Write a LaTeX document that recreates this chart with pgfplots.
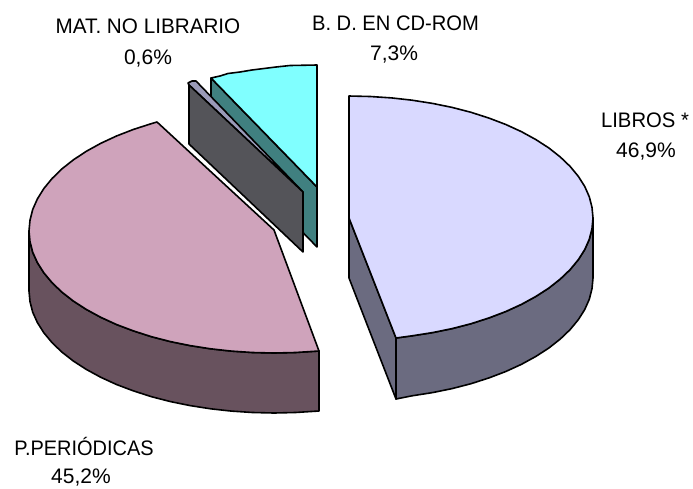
\documentclass[border=0pt]{standalone}
\usepackage{pgfplots}
\pgfplotsset{compat=1.18}
\usepackage{fontspec}
\setmainfont{Liberation Sans}
\definecolor{libtop}{HTML}{D9D9FF}
\definecolor{libside}{HTML}{6B6B80}
\definecolor{pertop}{HTML}{CFA3BB}
\definecolor{perside}{HTML}{68525E}
\definecolor{cdtop}{HTML}{80FFFF}
\definecolor{cdside}{HTML}{408080}
\definecolor{mattop}{HTML}{9A9AB8}
\definecolor{matside}{HTML}{545459}
\tikzset{lbl/.style={font=\fontsize{21}{23}\selectfont, text=black, inner sep=0pt, anchor=center}}
\begin{document}
\begin{tikzpicture}
\useasboundingbox (0,0) rectangle (693pt,488pt);
\begin{axis}[
  at={(0,0)}, anchor=south west,
  width=693pt, height=488pt, scale only axis,
  xmin=0, xmax=693, ymin=0, ymax=488, y dir=reverse,
  hide axis, clip=false,
  every axis plot/.append style={draw=black, line width=1.6pt, line join=round},
]
% CD-ROM side and top
\addplot[fill=cdside] coordinates {(211,78)(317,187)(317,247)(211,138)} -- cycle;
\addplot[fill=cdtop] coordinates {(211,78)(220,76)(228,73.5)(240,72)(252,70)(264,68.5)(276,67)(290,65.5)(317,65)(317,187)} -- cycle;
% Mat. no librario top and side
\addplot[fill=mattop] coordinates {(189,85)(188,83)(192,81)(196,81)(303,192)} -- cycle;
\addplot[fill=matside] coordinates {(189,85)(303,192)(303,252)(189,144)} -- cycle;
% Periodicas side and top
\addplot[fill=perside] coordinates {(29,231)(30,241.6)(32.7,252.2)(37.4,262.6)(43.8,272.7)(52,282.6)(61.8,292)(73.3,301)(86.3,309.4)(100.8,317.3)(116.5,324.5)(133.5,330.9)(151.5,336.7)(170.5,341.6)(190.2,345.6)(210.6,348.8)(231.5,351.1)(252.6,352.5)(274,353)(295.4,352.5)(319,351)(319,411)(295.4,412.5)(274,413)(252.6,412.5)(231.5,411.1)(210.6,408.8)(190.2,405.6)(170.5,401.6)(151.5,396.7)(133.5,390.9)(116.5,384.5)(100.8,377.3)(86.3,369.4)(73.3,361)(61.8,352)(52,342.6)(43.8,332.7)(37.4,322.6)(32.7,312.2)(30,301.6)(29,291)} -- cycle;
\addplot[fill=pertop] coordinates {(157,122)(151.5,123.6)(133.5,129.4)(116.5,136)(100.8,143.3)(86.3,151.3)(73.3,159.9)(61.8,169)(52,178.6)(43.8,188.6)(37.4,198.9)(32.7,209.5)(30,220.2)(29,231)(30,241.6)(32.7,252.2)(37.4,262.6)(43.8,272.7)(52,282.6)(61.8,292)(73.3,301)(86.3,309.4)(100.8,317.3)(116.5,324.5)(133.5,330.9)(151.5,336.7)(170.5,341.6)(190.2,345.6)(210.6,348.8)(231.5,351.1)(252.6,352.5)(274,353)(295.4,352.5)(319,351)(274,230)} -- cycle;
% Libros sides and top
\addplot[fill=libside] coordinates {(349,218)(396,338)(396,399)(349,278)} -- cycle;
\addplot[fill=libside] coordinates {(396,338)(412.1,335.8)(432.5,332.6)(452.1,328.6)(471,323.7)(489,317.9)(505.8,311.5)(521.5,304.3)(535.9,296.4)(548.9,288)(560.3,279)(570.1,269.6)(578.3,259.7)(584.7,249.6)(589.3,239.2)(592,228.6)(593,218)(593,278)(592,288.6)(589.3,299.2)(584.7,309.6)(578.3,319.7)(570.1,329.6)(560.3,339)(548.9,348)(535.9,356.4)(521.5,364.3)(505.8,371.5)(489,377.9)(471,383.7)(452.1,388.6)(432.5,392.6)(412.1,395.8)(396,399)} -- cycle;
\addplot[fill=libtop] coordinates {(349,96)(370.3,96.5)(391.4,97.9)(412.1,100.2)(432.5,103.4)(452.1,107.4)(471,112.3)(489,118.1)(505.8,124.5)(521.5,131.7)(535.9,139.6)(548.9,148)(560.3,157)(570.1,166.4)(578.3,176.3)(584.7,186.4)(589.3,196.8)(592,207.4)(593,218)(592,228.6)(589.3,239.2)(584.7,249.6)(578.3,259.7)(570.1,269.6)(560.3,279)(548.9,288)(535.9,296.4)(521.5,304.3)(505.8,311.5)(489,317.9)(471,323.7)(452.1,328.6)(432.5,332.6)(412.1,335.8)(396,338)(349,218)} -- cycle;
% Labels
\node[lbl,xscale=.985] at (axis cs:148,26) {MAT. NO LIBRARIO};
\node[lbl] at (axis cs:148,58.5) {0,6\%};
\node[lbl,xscale=.96] at (axis cs:395.5,23) {B. D. EN CD-ROM};
\node[lbl] at (axis cs:394,54.5) {7,3\%};
\node[lbl,xscale=.965] at (axis cs:645,120) {LIBROS *};
\node[lbl] at (axis cs:646,152) {46,9\%};
\node[lbl,xscale=.95] at (axis cs:84,446) {P.PERIÓDICAS};
\node[lbl] at (axis cs:81,478) {45,2\%};
\end{axis}
\end{tikzpicture}
\end{document}
